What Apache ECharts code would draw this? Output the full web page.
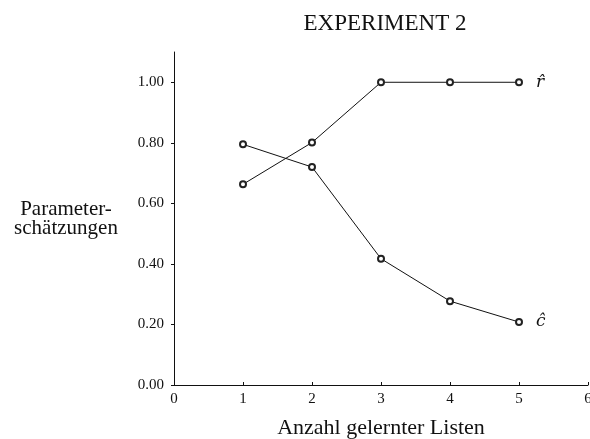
<!DOCTYPE html>
<html>
<head>
<meta charset="utf-8">
<script src="https://cdn.jsdelivr.net/npm/echarts@6/dist/echarts.min.js"></script>
<style>
  html, body { margin: 0; padding: 0; background: #fff; }
  #chart { width: 590px; height: 439px; }
</style>
</head>
<body>
<div id="chart"></div>
<script>
var lists = [1, 2, 3, 4, 5];
var rHat = [0.663, 0.801, 1.00, 1.00, 1.00];
var cHat = [0.795, 0.72, 0.417, 0.277, 0.208];
var yTicks = [0, 0.2, 0.4, 0.6, 0.8, 1.0];

var chart = echarts.init(document.getElementById('chart'));
var font = '"Liberation Serif", "DejaVu Serif", serif';

function pairs(ys) {
  return lists.map(function (x, i) { return [x, ys[i]]; });
}

function lineSeries(name, ys, label) {
  return {
    name: name,
    type: 'line',
    data: pairs(ys),
    symbol: 'emptyCircle',
    symbolSize: 6,
    lineStyle: { color: '#111', width: 1 },
    itemStyle: { color: '#222', borderWidth: 0.9 },
    endLabel: {
      show: true,
      formatter: label,
      fontFamily: '"DejaVu Serif", serif',
      fontStyle: 'italic',
      fontSize: 17,
      color: '#111',
      distance: 17
    },
    animation: false
  };
}

var option = {
  backgroundColor: '#fff',
  title: {
    text: 'EXPERIMENT 2',
    left: 380,
    top: 7,
    textAlign: 'center',
    textStyle: { fontFamily: font, fontWeight: 'normal', fontSize: 23, color: '#111' }
  },
  grid: { left: 174, right: 2, top: 52, bottom: 54, outerBoundsMode: 'none', containLabel: false },
  xAxis: {
    type: 'value',
    min: 0,
    max: 6,
    interval: 1,
    name: 'Anzahl gelernter Listen',
    nameLocation: 'middle',
    nameGap: 32,
    nameTextStyle: { fontFamily: font, fontSize: 22, color: '#111' },
    axisLine: { lineStyle: { color: '#111', width: 1 } },
    axisTick: { inside: true, length: 3, lineStyle: { color: '#111' } },
    axisLabel: { fontFamily: font, fontSize: 15, color: '#111', margin: 7 },
    splitLine: { show: false }
  },
  yAxis: {
    type: 'value',
    min: 0,
    max: 1.1,
    name: 'Parameter-\nschätzungen',
    nameLocation: 'middle',
    nameRotate: 0,
    nameGap: 108,
    nameTextStyle: { fontFamily: font, fontSize: 21, color: '#111', align: 'center', lineHeight: 19 },
    axisLine: { show: true, lineStyle: { color: '#111', width: 1 } },
    axisTick: { show: true, length: 3, customValues: yTicks, lineStyle: { color: '#111' } },
    axisLabel: {
      fontFamily: font, fontSize: 15, color: '#111', margin: 10,
      customValues: yTicks,
      formatter: function (v) { return v.toFixed(2); }
    },
    splitLine: { show: false }
  },
  series: [
    lineSeries('r', rHat, 'r\u0302'),
    lineSeries('c', cHat, 'c\u0302')
  ]
};

chart.setOption(option);
</script>
</body>
</html>
